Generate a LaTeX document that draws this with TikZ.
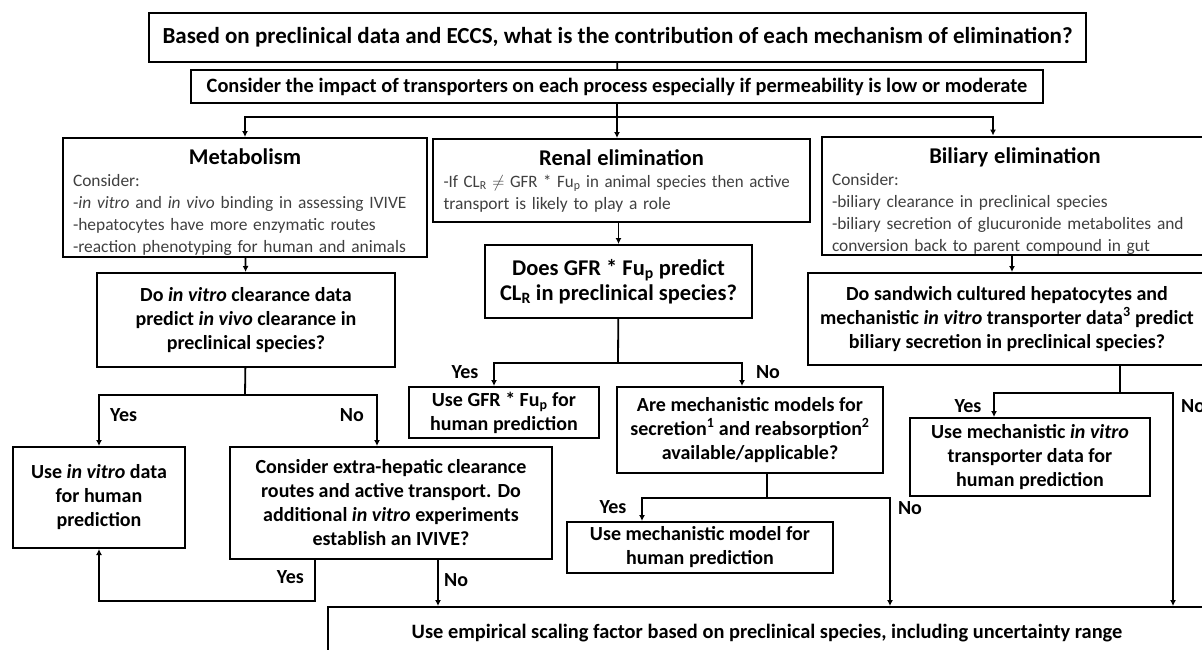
\documentclass[tikz,border=0pt]{standalone}
\usepackage{fontspec}
\usepackage{graphicx}
\setmainfont{Carlito}
\usetikzlibrary{arrows.meta}
\newcommand{\headtxt}{\bfseries\fontsize{22.5}{27}\selectfont}
\newcommand{\bodytxt}{\fontsize{17.4}{22}\selectfont}
\newcommand{\asktxt}{\bfseries\fontsize{20}{24}\selectfont}
\newcommand{\bigask}{\bfseries\fontsize{22.5}{25}\selectfont}
\newcommand{\toptxt}{\bfseries\fontsize{23}{26}\selectfont}
\newcommand{\widetxt}{\bfseries\fontsize{20.4}{23}\selectfont}
\colorlet{bodygray}{black!75}
\begin{document}
\begin{tikzpicture}[x=1pt, y=-1pt,
    box/.style={draw, line width=2pt, inner sep=0pt, align=center},
    note/.style={box, align=left, font=\bodytxt, text=bodygray},
    arr/.style={line width=1.8pt, -{Latex[length=6pt,width=6pt]}},
    link/.style={line width=1.8pt},
    lbl/.style={font=\asktxt, inner sep=0pt}]
  \useasboundingbox (0,0) rectangle (1202,649);
  \clip (0,0) rectangle (1202,649);
  \fill[white] (0,0) rectangle (1202,649);
  % overall question
  \node[box, minimum width=937, minimum height=49, font=\toptxt] (top) at (617.5,37.5)
       {Based on preclinical data and ECCS, what is the contribution of each mechanism of elimination?};
  \node[box, minimum width=852, minimum height=33, font=\widetxt] (trans) at (617,86.5)
       {Consider the impact of transporters on each process especially if permeability is low or moderate};
  % three routes
  \node[note, minimum width=364, minimum height=119, text width=344] (metab) at (245,197.5)
       {\makebox[344pt]{\rule{0pt}{25pt}\color{black}\headtxt Metabolism}\\
        Consider:\\
        -\textit{in vitro} and \textit{in vivo} binding in assessing IVIVE\\
        -hepatocytes have more enzymatic routes\\
        -reaction phenotyping for human and animals};
  \node[note, minimum width=377, minimum height=83, text width=356] (renal) at (621.5,180.5)
       {\makebox[356pt]{\rule{0pt}{15pt}\color{black}\headtxt Renal elimination}\\
        \scalebox{0.97}[1]{-If CL\textsubscript{R} $\neq$ GFR * Fu\textsubscript{p} in animal species then active}\\
        transport is likely to play a role};
  \node[note, minimum width=386, minimum height=115, text width=366] (bili) at (1015,195.5)
       {\makebox[366pt]{\rule{0pt}{27pt}\color{black}\headtxt Biliary elimination}\\
        Consider:\\
        -biliary clearance in preclinical species\\
        -biliary secretion of glucuronide metabolites and\\
        conversion back to parent compound in gut};
  % questions
  \node[box, minimum width=298, minimum height=94, font=\asktxt] (mq) at (246,320)
       {Do \textit{in vitro} clearance data\\predict \textit{in vivo} clearance in\\preclinical species?};
  \node[box, minimum width=267, minimum height=73, font=\bigask] (gq) at (618.5,281.5)
       {Does GFR * Fu\textsubscript{p} predict\\CL\textsubscript{R} in preclinical species?};
  \node[box, minimum width=398, minimum height=92, font=\asktxt] (sq) at (1007,319)
       {Do sandwich cultured hepatocytes and\\mechanistic \textit{in vitro} transporter data\textsuperscript{3} predict\\biliary secretion in preclinical species?};
  % outcomes
  \node[box, minimum width=172, minimum height=101, font=\asktxt] (invitro) at (99,497.5)
       {Use \textit{in vitro} data\\for human\\prediction};
  \node[box, minimum width=322, minimum height=112, font=\asktxt] (extra) at (391,503)
       {Consider extra-hepatic clearance\\routes and active transport. Do\\additional \textit{in vitro} experiments\\establish an IVIVE?};
  \node[box, minimum width=190, minimum height=51, font=\asktxt] (usegfr) at (504,412.5)
       {Use GFR * Fu\textsubscript{p} for\\human prediction};
  \node[box, minimum width=266, minimum height=86, font=\asktxt] (areq) at (750,430)
       {Are mechanistic models for\\secretion\textsuperscript{1} and reabsorption\textsuperscript{2}\\available/applicable?};
  \node[box, minimum width=266, minimum height=51, font=\asktxt] (usemech) at (700,547.5)
       {Use mechanistic model for\\human prediction};
  \node[box, minimum width=240, minimum height=78, font=\asktxt] (usetr) at (1030,457)
       {Use mechanistic \textit{in vitro}\\transporter data for\\human prediction};
  \node[box, minimum width=878, minimum height=52, font=\widetxt] (emp) at (767,633)
       {Use empirical scaling factor based on preclinical species, including uncertainty range};
  % forks
  \coordinate (split) at (617,117);
  \coordinate (mfork) at (245,395);
  \coordinate (gfork) at (618,363);
  \coordinate (afork) at (767,498);
  \coordinate (sfork) at (1120,393);
  % connectors
  \draw[link] (top) -- (trans);
  \draw[link] (trans) -- (split);
  \draw[arr] (split) -| (metab);
  \draw[arr] (split) -- (split |- renal.north);
  \draw[arr] (split) -| ([xshift=-22]bili.north);
  \draw[arr] (metab) -- (mq);
  \draw[arr] (renal.south -| gq) -- (gq);
  \draw[arr] ([xshift=-3]bili.south) -- ([xshift=5]sq.north);
  \draw[link] (mq) -- (mfork);
  \draw[arr] (mfork) -| (invitro);
  \draw[arr] (mfork) -| ([xshift=-14]extra.north);
  \draw[arr] ([xshift=-76]extra.south) -- ++(0,41) -| (invitro);
  \draw[arr] ([xshift=47]extra.south) -- ([xshift=47]extra.south |- emp.north);
  \draw[link] (gq) -- (gfork);
  \draw[arr] (gfork) -| ([xshift=-10]usegfr.north);
  \draw[arr] (gfork) -| ([xshift=-8]areq.north);
  \draw[link] (areq.south -| afork) -- (afork);
  \draw[arr] (afork) -| ([xshift=-58]usemech.north);
  \draw[arr] (afork) -| ([xshift=123]emp.north);
  \draw[link] (sq.south -| sfork) -- (sfork);
  \draw[arr] (sfork) -| ([xshift=-36]usetr.north);
  \draw[arr] (sfork) -| ([xshift=406]emp.north);
  % branch labels
  \node[lbl, anchor=west] (myes) at (110,415) {Yes};
  \node[lbl, anchor=east] (mno) at (364,415) {No};
  \node[lbl, anchor=east] (eyes) at (304,577) {Yes};
  \node[lbl, anchor=west] (eno) at (444,580) {No};
  \node[lbl] (gyes) at (465,372) {Yes};
  \node[lbl] (gno) at (768,372) {No};
  \node[lbl] (ayes) at (613,507) {Yes};
  \node[lbl] (ano) at (910,508) {No};
  \node[lbl] (syes) at (968,406) {Yes};
  \node[lbl, anchor=west] (sno) at (1181,406) {No};
\end{tikzpicture}
\end{document}
